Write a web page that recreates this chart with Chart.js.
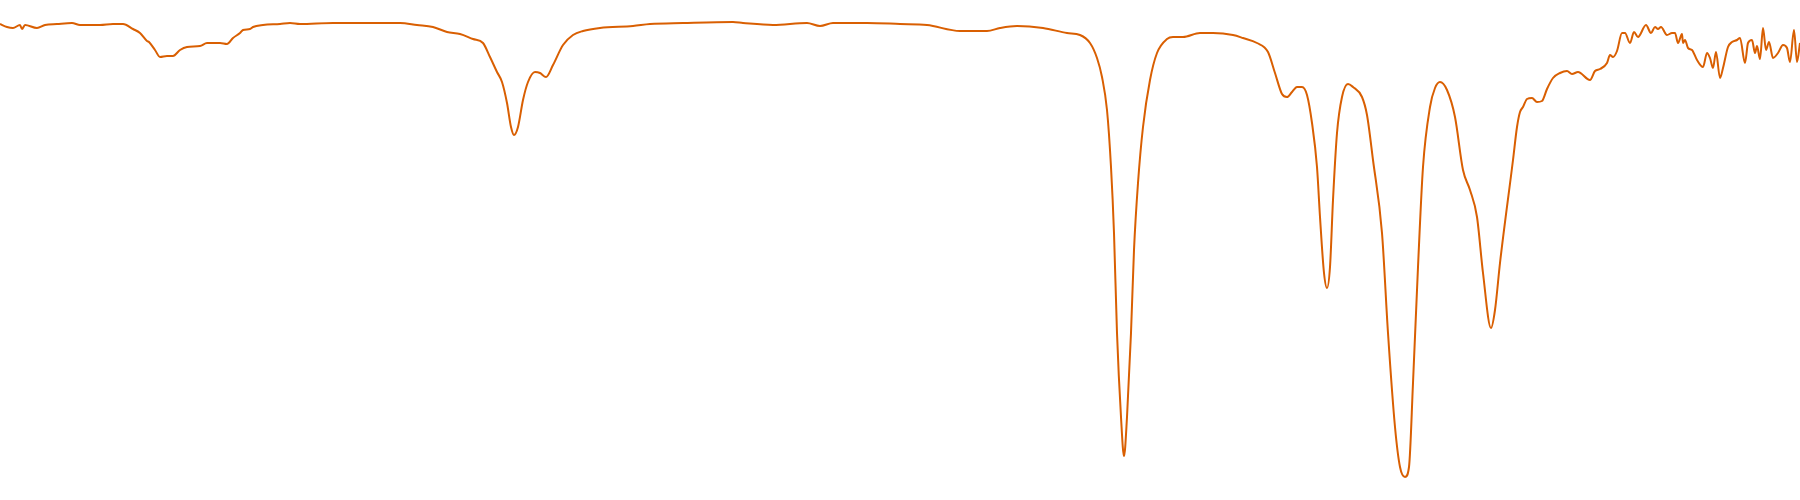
<!DOCTYPE html>
<html>
<head>
<meta charset="utf-8">
<title>Espectro IR</title>
<script src="https://cdn.jsdelivr.net/npm/chart.js"></script>
<style>
  body { margin: 0; background: #fff; }
  #chart { display: block; }
</style>
</head>
<body>
<canvas id="chart" width="1800" height="500"></canvas>
<script>
// numero de onda (cm-1), de 4000 a 400
var numeroOnda = [
  4000, 3986, 3974, 3960, 3956, 3950, 3926, 3910, 3886, 3856, 3840, 3800, 3774, 3754, 3734, 3720,
  3706, 3702, 3690, 3680, 3666, 3654, 3640, 3626, 3600, 3586, 3560, 3546, 3534, 3520, 3514, 3500,
  3494, 3474, 3440, 3420, 3400, 3334, 3266, 3200, 3166, 3134, 3106, 3080, 3054, 3034, 3020, 3006,
  2996, 2986, 2978, 2972, 2964, 2954, 2944, 2930, 2920, 2908, 2894, 2874, 2854, 2834, 2800, 2734,
  2700, 2634, 2534, 2514, 2454, 2386, 2360, 2334, 2266, 2200, 2146, 2080, 2026, 2000, 1966, 1914,
  1866, 1840, 1820, 1806, 1796, 1786, 1778, 1772, 1766, 1758, 1752, 1746, 1738, 1732, 1724, 1714,
  1700, 1686, 1666, 1654, 1634, 1600, 1574, 1534, 1514, 1486, 1464, 1450, 1436, 1426, 1416, 1406,
  1396, 1386, 1376, 1366, 1360, 1352, 1346, 1340, 1334, 1326, 1316, 1304, 1294, 1276, 1266, 1254,
  1236, 1224, 1210, 1200, 1190, 1182, 1174, 1164, 1154, 1140, 1130, 1120, 1106, 1090, 1074, 1060,
  1046, 1034, 1018, 1010, 1000, 974, 966, 960, 954, 946, 936, 926, 916, 906, 894, 880,
  866, 856, 844, 820, 810, 800, 786, 780, 774, 766, 756, 750, 740, 732, 724, 708,
  698, 690, 684, 678, 666, 656, 650, 644, 636, 634, 630, 624, 616, 606, 594, 586,
  580, 574, 568, 560, 554, 544, 536, 526, 520, 510, 504, 496, 490, 486, 480, 474,
  468, 462, 454, 444, 434, 426, 420, 412, 406, 400
];

// transmitancia (%)
var transmitancia = [
  95.2, 94.6, 94.4, 95.0, 94.2, 95.0, 94.4, 95.0, 95.2, 95.4, 95.0, 95.0, 95.2, 95.2, 94.2, 93.4,
  91.8, 91.6, 90.0, 88.6, 88.8, 88.8, 90.0, 90.6, 90.8, 91.4, 91.4, 91.2, 92.4, 93.4, 94.0, 94.2,
  94.6, 95.0, 95.2, 95.4, 95.2, 95.4, 95.4, 95.4, 95.0, 94.6, 93.6, 93.2, 92.2, 91.4, 88.6, 85.6,
  83.6, 79.4, 74.6, 73.0, 74.6, 80.0, 83.6, 85.6, 85.4, 84.6, 87.0, 91.0, 93.0, 93.8, 94.4, 94.8,
  95.2, 95.4, 95.6, 95.4, 95.0, 95.4, 94.8, 95.4, 95.4, 95.2, 95.0, 93.8, 93.8, 94.4, 94.8, 94.4,
  93.4, 93.0, 91.4, 88.4, 84.6, 78.0, 66.6, 53.4, 33.4, 16.6, 8.8, 16.6, 33.4, 50.0, 63.4, 74.6,
  84.0, 89.4, 92.2, 92.6, 92.6, 93.4, 93.4, 93.0, 92.4, 91.4, 89.6, 85.4, 81.2, 80.6, 81.6, 82.6,
  82.6, 81.0, 75.4, 66.6, 56.6, 45.4, 42.4, 46.6, 60.0, 73.4, 80.6, 83.2, 82.6, 80.6, 77.0, 68.0,
  53.4, 33.4, 14.6, 6.6, 4.6, 6.6, 23.4, 46.6, 66.6, 78.6, 82.4, 83.6, 82.0, 76.6, 66.0, 62.0,
  56.6, 45.4, 34.4, 38.0, 47.4, 68.0, 74.6, 77.6, 78.6, 80.2, 80.4, 79.6, 79.8, 82.2, 84.4, 85.4,
  85.8, 85.2, 85.6, 84.0, 85.8, 86.2, 87.4, 89.0, 88.6, 89.8, 93.4, 93.4, 91.4, 93.6, 92.6, 95.0,
  93.4, 94.6, 94.2, 94.6, 93.0, 93.4, 93.4, 91.4, 93.2, 91.4, 92.0, 90.4, 90.0, 88.0, 86.6, 89.4,
  88.4, 86.4, 89.6, 84.4, 86.4, 90.6, 91.6, 92.0, 92.4, 87.4, 91.4, 92.0, 89.4, 90.8, 88.2, 94.4,
  90.0, 91.6, 88.4, 89.4, 91.0, 90.4, 87.6, 94.0, 87.6, 91.4
];

var puntos = [];
for (var i = 0; i < numeroOnda.length; i++) {
  puntos.push({ x: numeroOnda[i], y: transmitancia[i] });
}

var ctx = document.getElementById('chart');

var chart = new Chart(ctx, {
  type: 'line',
  data: {
    datasets: [{
      label: 'espectro',
      data: puntos,
      borderColor: '#d95f02',
      borderWidth: 2,
      pointRadius: 0,
      cubicInterpolationMode: 'monotone', // picos redondeados
      fill: false
    }]
  },
  options: {
    responsive: false,
    animation: false,
    layout: { padding: 0 },
    plugins: {
      legend: { display: false },
      tooltip: { enabled: false }
    },
    scales: {
      x: { type: 'linear', reverse: true, min: 400, max: 4000, display: false },
      y: { min: 0, max: 100, display: false }
    }
  }
});
</script>
</body>
</html>
